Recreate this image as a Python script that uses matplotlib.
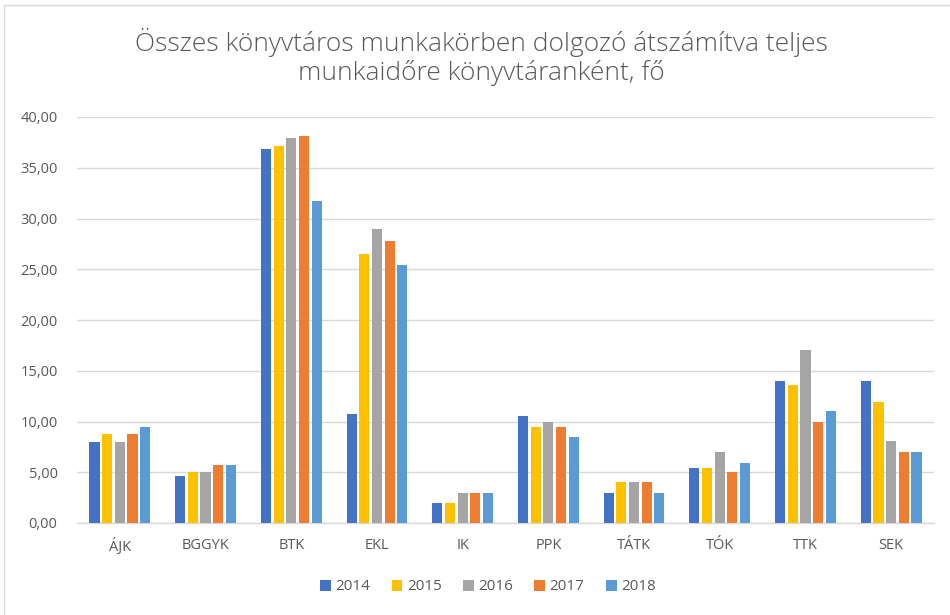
import matplotlib
matplotlib.use("Agg")
import matplotlib.pyplot as plt
import numpy as np
from matplotlib.patches import Rectangle

categories = ["ÁJK", "BGGYK", "BTK", "EKL", "IK", "PPK", "TÁTK", "TÓK", "TTK", "SEK"]
years = ["2014", "2015", "2016", "2017", "2018"]
v2014 = [8.0, 4.6, 36.85, 10.75, 2.0, 10.5, 3.0, 5.45, 14.0, 14.0]
v2015 = [8.8, 5.0, 37.1, 26.55, 2.0, 9.5, 4.0, 5.45, 13.55, 11.95]
v2016 = [8.0, 5.0, 37.95, 29.0, 3.0, 10.0, 4.0, 6.95, 17.0, 8.05]
v2017 = [8.8, 5.7, 38.1, 27.75, 3.0, 9.5, 4.0, 5.0, 10.0, 6.95]
v2018 = [9.5, 5.7, 31.7, 25.45, 3.0, 8.5, 3.0, 5.95, 11.0, 6.95]
series = [v2014, v2015, v2016, v2017, v2018]
colors = ["#4472C4", "#FFC000", "#A5A5A5", "#ED7D31", "#5B9BD5"]
yticks = [0, 5, 10, 15, 20, 25, 30, 35, 40]

FONT = "Open Sans"
TXT = "#595959"

fig = plt.figure(figsize=(9.5, 6.15), dpi=100)
ax = fig.add_axes([77/950, 1 - 523/615, (934-77)/950, (523-117)/615])

x = np.arange(len(categories))
bw = 0.118
stride = 0.148
for i, (vals, c, yr) in enumerate(zip(series, colors, years)):
    ax.bar(x + (i - 2) * stride, vals, width=bw, color=c, label=yr, zorder=3)

ax.set_xlim(-0.5, len(categories) - 0.5)
ax.set_ylim(0, 40)
ax.set_yticks(yticks)
ax.set_yticklabels([f"{t:.2f}".replace(".", ",") for t in yticks],
                   fontsize=10.5, color=TXT, family=FONT)
ax.set_xticks(x)
ax.set_xticklabels(categories, fontsize=10.5, color=TXT, family=FONT)
ax.tick_params(axis="both", length=0)
ax.tick_params(axis="y", pad=14)
ax.tick_params(axis="x", pad=11)
ax.grid(axis="y", color="#D9D9D9", linewidth=1, zorder=0)
for s in ["top", "right", "left"]:
    ax.spines[s].set_visible(False)
ax.spines["bottom"].set_color("#D9D9D9")
ax.spines["bottom"].set_linewidth(1)

fig.text(481/950, 1 - 42/615, "Összes könyvtáros munkakörben dolgozó átszámítva teljes",
         ha="center", va="center", fontsize=19, color=TXT, family=FONT, fontweight="light")
fig.text(481/950, 1 - 73/615, "munkaidőre könyvtáranként, fő",
         ha="center", va="center", fontsize=19, color=TXT, family=FONT, fontweight="light")

leg = fig.legend(loc="center", bbox_to_anchor=(488/950, 1 - 587/615), ncol=5,
                 frameon=False, handlelength=0.7, handleheight=0.7,
                 handletextpad=0.3, columnspacing=1.4,
                 prop={"family": FONT, "size": 11})
for t in leg.get_texts():
    t.set_color(TXT)

fig.patches.append(Rectangle((4/950, -0.1), 1.2, 1.1 - 5/615, transform=fig.transFigure,
                             fill=False, edgecolor="#D9D9D9", linewidth=1))

fig.savefig("out.png", dpi=100, facecolor="white")
